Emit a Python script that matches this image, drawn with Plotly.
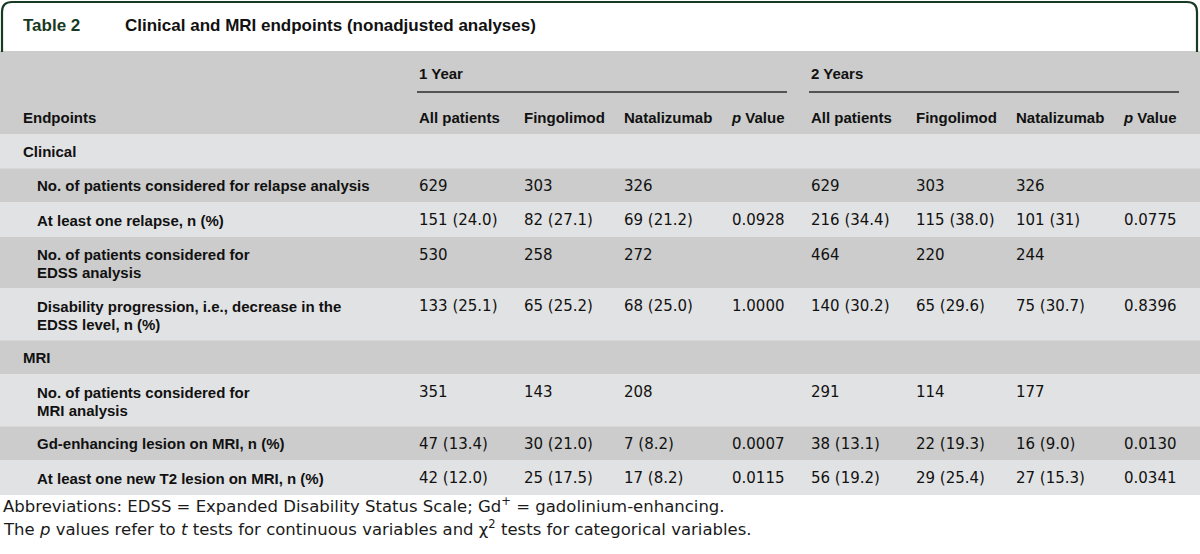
import plotly.graph_objects as go

# ---------------- data ----------------
title_num = "Table 2"
title_text = "Clinical and MRI endpoints (nonadjusted analyses)"
year_groups = ["1 Year", "2 Years"]
col_headers = ["All patients", "Fingolimod", "Natalizumab", "<i>p</i> Value",
               "All patients", "Fingolimod", "Natalizumab", "<i>p</i> Value"]
endpoints = [
    "Clinical",
    "No. of patients considered for relapse analysis",
    "At least one relapse, n (%)",
    "No. of patients considered for<br>EDSS analysis",
    "Disability progression, i.e., decrease in the<br>EDSS level, n (%)",
    "MRI",
    "No. of patients considered for<br>MRI analysis",
    "Gd-enhancing lesion on MRI, n (%)",
    "At least one new T2 lesion on MRI, n (%)",
]
is_section = [True, False, False, False, False, True, False, False, False]
all_1y = ["", "629", "151 (24.0)", "530", "133 (25.1)", "", "351", "47 (13.4)", "42 (12.0)"]
fingo_1y = ["", "303", "82 (27.1)", "258", "65 (25.2)", "", "143", "30 (21.0)", "25 (17.5)"]
natal_1y = ["", "326", "69 (21.2)", "272", "68 (25.0)", "", "208", "7 (8.2)", "17 (8.2)"]
p_1y = ["", "", "0.0928", "", "1.0000", "", "", "0.0007", "0.0115"]
all_2y = ["", "629", "216 (34.4)", "464", "140 (30.2)", "", "291", "38 (13.1)", "56 (19.2)"]
fingo_2y = ["", "303", "115 (38.0)", "220", "65 (29.6)", "", "114", "22 (19.3)", "29 (25.4)"]
natal_2y = ["", "326", "101 (31)", "244", "75 (30.7)", "", "177", "16 (9.0)", "27 (15.3)"]
p_2y = ["", "", "0.0775", "", "0.8396", "", "", "0.0130", "0.0341"]
footnotes = [
    "Abbreviations: EDSS = Expanded Disability Status Scale; Gd<sup>+</sup> = gadolinium-enhancing.",
    "The <i>p</i> values refer to <i>t</i> tests for continuous variables and \u03c7<sup>2</sup> tests for categorical variables.",
]

# ---------------- layout / style ----------------
W, H = 1200, 554
DARK = "#cbcccb"
LIGHT = "#e1e2e3"
GREEN = "#183a22"
BOLD_FONT = "Liberation Sans, Arial, sans-serif"
REG_FONT = "DejaVu Sans, sans-serif"

col_x = [417, 522, 622, 787, 809, 914, 1014, 1179]
col_anchor = ["left", "left", "left", "right", "left", "left", "left", "right"]
data_cols = [all_1y, fingo_1y, natal_1y, p_1y, all_2y, fingo_2y, natal_2y, p_2y]

fig = go.Figure()
shapes = []
ann = []

def text(x, y, s, size=15, bold=True, color="#111", anchor="left", font=None):
    ann.append(dict(x=x, y=y, xref="x", yref="y", text=(f"<b>{s}</b>" if bold else s),
                    showarrow=False, xanchor=anchor, yanchor="middle",
                    font=dict(size=size, color=color, family=font or (BOLD_FONT if bold else REG_FONT))))

# title box with rounded top corners
r = 10
path = (f"M 2 52 L 2 {2+r} Q 2 2 {2+r} 2 L {1197-r} 2 Q 1197 2 1197 {2+r} L 1197 52")
shapes.append(dict(type="path", path=path, xref="x", yref="y", line=dict(color=GREEN, width=2.2)))
text(21, 25, title_num, size=17, color=GREEN)
text(123, 25, title_text, size=17, color="#111")

# header band
HDR_TOP, HDR_BOT = 51, 134
shapes.append(dict(type="rect", x0=0, x1=W, y0=HDR_TOP, y1=HDR_BOT, xref="x", yref="y",
                   fillcolor=DARK, line=dict(width=0), layer="below"))
text(417, 73, year_groups[0])
text(809, 73, year_groups[1])
for x0, x1 in [(417, 787), (809, 1179)]:
    shapes.append(dict(type="line", x0=x0, x1=x1, y0=92, y1=92, xref="x", yref="y",
                       line=dict(color="#2b2b2b", width=1.6)))
text(21, 117, "Endpoints")
for x, a, h in zip(col_x, col_anchor, col_headers):
    text(x, 117, h, anchor=a)

# body rows
SINGLE, DOUBLE = 34.3, 51.7
y = HDR_BOT
for i, lab in enumerate(endpoints):
    lines = lab.split("<br>")
    h = SINGLE if len(lines) == 1 else DOUBLE
    shapes.append(dict(type="rect", x0=0, x1=W, y0=y, y1=y + h, xref="x", yref="y",
                       fillcolor=(LIGHT if i % 2 == 0 else DARK), line=dict(width=0), layer="below"))
    first = y + 17.6
    for k, ln in enumerate(lines):
        text(21 if is_section[i] else 35, first + k * 18, ln)
    for x, a, col in zip(col_x, col_anchor, data_cols):
        if col[i]:
            text(x, first, col[i], bold=False, anchor=a)
    y += h

# footnotes
text(1, 505, footnotes[0], size=16.5, bold=False, color="#1a1a1a")
text(1, 528, footnotes[1], size=16.5, bold=False, color="#1a1a1a")

fig.update_layout(
    width=W, height=H, margin=dict(l=0, r=0, t=0, b=0),
    paper_bgcolor="white", plot_bgcolor="white",
    xaxis=dict(range=[0, W], visible=False, fixedrange=True),
    yaxis=dict(range=[H, 0], visible=False, fixedrange=True),
    shapes=shapes, annotations=ann, showlegend=False,
)
fig.write_html("out.html", config={"displayModeBar": False},
               post_script="document.body.style.margin='0';")
